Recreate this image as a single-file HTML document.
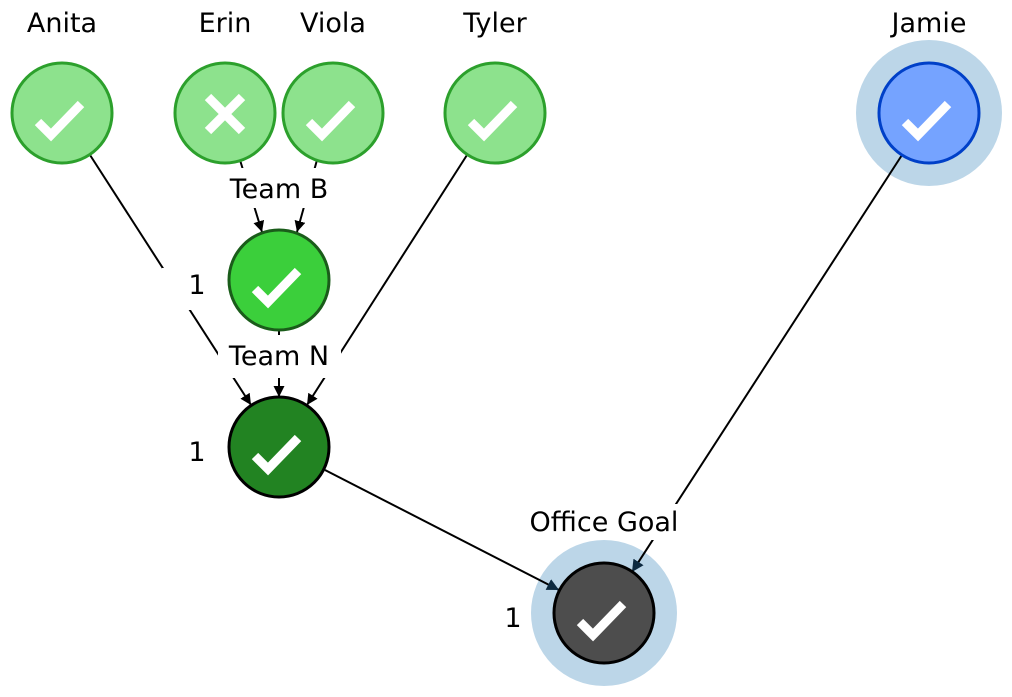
<!DOCTYPE html>
<html><head><meta charset="utf-8"><style>body{margin:0;background:#fff}svg{display:block}text{font-family:"DejaVu Sans","Liberation Sans",sans-serif;font-size:27px;fill:#000}</style></head><body>
<svg width="1012" height="697" viewBox="0 0 1012 697">
<defs>
<marker id="a" viewBox="0 0 10 10" refX="10" refY="5" markerWidth="11" markerHeight="11" markerUnits="userSpaceOnUse" orient="auto"><path d="M0,0L10,5L0,10z" fill="#000"/></marker>
<marker id="b" viewBox="0 0 10 10" refX="10" refY="5" markerWidth="12" markerHeight="12" markerUnits="userSpaceOnUse" orient="auto"><path d="M0,0L10,5L0,10z" fill="#0d2a40"/></marker>
<g id="ck"><path d="M-24,4L-11,17L19,-14" stroke="#fff" stroke-width="9" fill="none"/></g>
</defs>
<circle cx="929" cy="113" r="73" fill="#bcd6e8"/>
<circle cx="604" cy="613" r="73" fill="#bcd6e8"/>
<g stroke="#000" stroke-width="2" fill="none">
<line x1="90" y1="155" x2="251" y2="405" marker-end="url(#a)"/>
<line x1="240" y1="160" x2="262" y2="232" marker-end="url(#a)"/>
<line x1="317" y1="160" x2="297" y2="232" marker-end="url(#a)"/>
<line x1="467" y1="155" x2="307" y2="405" marker-end="url(#a)"/>
<line x1="279" y1="330" x2="279" y2="397" marker-end="url(#a)"/>
<line x1="325" y1="470" x2="559" y2="590" marker-end="url(#b)"/>
<line x1="902" y1="155" x2="632" y2="572" marker-end="url(#b)"/>
</g>
<rect x="162" y="268" width="70" height="42" fill="#fff"/>
<rect x="218" y="335" width="123" height="43" fill="#fff"/>
<rect x="221" y="168" width="117" height="40" fill="#fff"/>
<rect x="520" y="504" width="168" height="36" fill="#fff"/>
<text x="279" y="198" text-anchor="middle">Team B</text>
<text x="279" y="365" text-anchor="middle">Team N</text>
<text x="604" y="531" text-anchor="middle">Office Goal</text>
<text x="197" y="294" text-anchor="middle">1</text>
<text x="197" y="461" text-anchor="middle">1</text>
<text x="513" y="627" text-anchor="middle">1</text>
<text x="62" y="32" text-anchor="middle">Anita</text>
<text x="225" y="32" text-anchor="middle">Erin</text>
<text x="333" y="32" text-anchor="middle">Viola</text>
<text x="495" y="32" text-anchor="middle">Tyler</text>
<text x="929" y="32" text-anchor="middle">Jamie</text>
<g stroke-width="3">
<circle cx="62" cy="113" r="50" fill="#8de28d" stroke="#2ca02c"/>
<circle cx="225" cy="113" r="50" fill="#8de28d" stroke="#2ca02c"/>
<circle cx="333" cy="113" r="50" fill="#8de28d" stroke="#2ca02c"/>
<circle cx="495" cy="113" r="50" fill="#8de28d" stroke="#2ca02c"/>
<circle cx="929" cy="113" r="50" fill="#75a3ff" stroke="#0040c8"/>
<circle cx="279" cy="280" r="50" fill="#3bcf3b" stroke="#1a5c1a"/>
<circle cx="279" cy="447" r="50" fill="#228322" stroke="#000"/>
<circle cx="604" cy="613" r="50" fill="#4d4d4d" stroke="#000"/>
</g>
<use href="#ck" x="62" y="118"/>
<use href="#ck" x="333" y="118"/>
<use href="#ck" x="495" y="118"/>
<use href="#ck" x="929" y="118"/>
<use href="#ck" x="279" y="285"/>
<use href="#ck" x="279" y="452"/>
<use href="#ck" x="604" y="618"/>
<path d="M208,97L242,131M242,97L208,131" stroke="#fff" stroke-width="9"/>
</svg>
</body></html>
